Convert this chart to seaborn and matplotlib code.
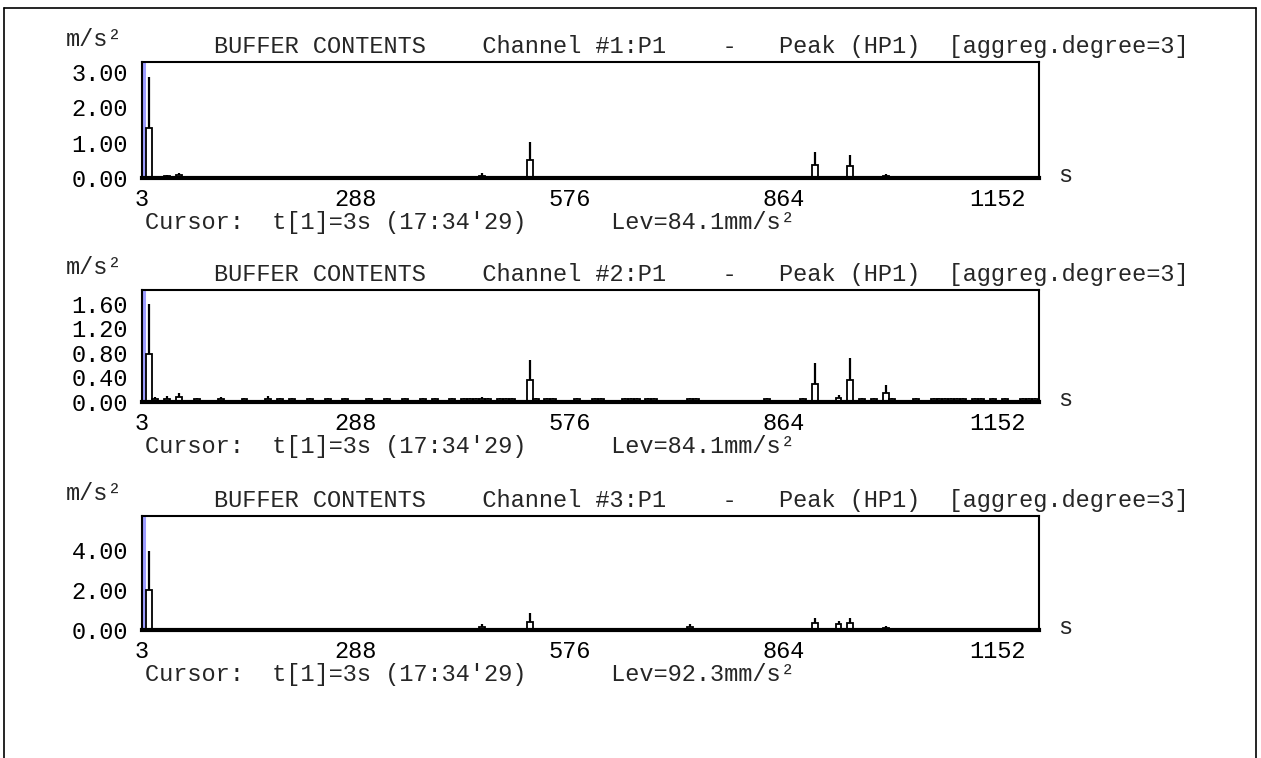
import numpy as np
import pandas as pd
import matplotlib as mpl
mpl.use('agg')
import matplotlib.pyplot as plt
import seaborn as sns
from matplotlib.lines import Line2D

# buffer contents, aggregated (8 s bins): bin time [s], mean level, peak level [m/s^2]
ch1_t    = [10, 18, 34, 50, 170, 290, 458, 522, 666, 746, 770, 882, 906, 938, 954, 1002]
ch1_avg  = [1.42, 0.04, 0.05, 0.08, 0.03, 0.02, 0.07, 0.52, 0.03, 0.03, 0.03, 0.04, 0.38, 0.04, 0.33, 0.05]
ch1_peak = [2.85, 0.06, 0.08, 0.13, 0.06, 0.04, 0.14, 1.02, 0.06, 0.05, 0.06, 0.07, 0.72, 0.07, 0.66, 0.10]

ch2_t    = [10, 18, 34, 50, 74, 106, 138, 170, 186, 202, 226, 250, 274, 306, 330, 354, 378, 394,
            418, 434, 442, 450, 458, 466, 482, 490, 498, 522, 530, 546, 554, 586, 610, 618,
            650, 658, 666, 682, 690, 738, 746, 842, 890, 906, 938, 954, 970, 986, 1002, 1010,
            1042, 1066, 1074, 1082, 1090, 1098, 1106, 1122, 1130, 1146, 1162, 1186, 1194, 1202]
ch2_avg  = [0.78, 0.05, 0.05, 0.08, 0.05, 0.05, 0.05, 0.05, 0.05, 0.05, 0.05, 0.05, 0.05, 0.05, 0.05, 0.05, 0.05, 0.05,
            0.05, 0.05, 0.05, 0.05, 0.05, 0.05, 0.05, 0.05, 0.05, 0.35, 0.05, 0.05, 0.05, 0.05, 0.05, 0.05,
            0.05, 0.05, 0.05, 0.05, 0.05, 0.05, 0.05, 0.05, 0.05, 0.30, 0.07, 0.35, 0.05, 0.05, 0.15, 0.05,
            0.05, 0.05, 0.05, 0.05, 0.05, 0.05, 0.05, 0.05, 0.05, 0.05, 0.05, 0.05, 0.05, 0.05]
ch2_peak = [1.59, 0.08, 0.09, 0.15, 0.06, 0.08, 0.06, 0.09, 0.06, 0.06, 0.06, 0.06, 0.06, 0.06, 0.06, 0.06, 0.06, 0.06,
            0.06, 0.06, 0.06, 0.06, 0.08, 0.06, 0.06, 0.06, 0.06, 0.69, 0.06, 0.06, 0.06, 0.06, 0.06, 0.06,
            0.06, 0.06, 0.06, 0.06, 0.06, 0.07, 0.06, 0.06, 0.06, 0.63, 0.11, 0.72, 0.06, 0.06, 0.27, 0.06,
            0.06, 0.06, 0.06, 0.06, 0.06, 0.06, 0.06, 0.06, 0.06, 0.06, 0.06, 0.06, 0.06, 0.06]

ch3_t    = [10, 34, 170, 458, 522, 738, 906, 938, 954, 1002]
ch3_avg  = [2.00, 0.05, 0.05, 0.15, 0.42, 0.15, 0.37, 0.30, 0.33, 0.10]
ch3_peak = [3.95, 0.12, 0.12, 0.30, 0.83, 0.30, 0.62, 0.45, 0.62, 0.20]

channels = ['#1', '#2', '#3']
y_top = [3.27, 1.82, 5.7]
y_ticks = [[0, 1, 2, 3], [0, 0.4, 0.8, 1.2, 1.6], [0, 2, 4]]
x_ticks = [0, 144, 288, 432, 576, 720, 864, 1008, 1152]
x_ticklabels = ['3', '', '288', '', '576', '', '864', '', '1152']
cursor_lev = ['84.1', '84.1', '92.3']

data = [(ch1_t, ch1_avg, ch1_peak), (ch2_t, ch2_avg, ch2_peak), (ch3_t, ch3_avg, ch3_peak)]

sns.set_style('white')
plt.rcParams['font.family'] = ['Liberation Mono', 'DejaVu Sans Mono']
fs = 17

W, H = 1261, 758
fig = plt.figure(figsize=(W / 100, H / 100), dpi=100)

# axes boxes in pixels: left, top, right, zero line
boxes = [(142, 62, 1039, 178), (142, 290, 1039, 402), (142, 516, 1039, 630)]

for i, (t, avg, peak) in enumerate(data):
    l, top, r, b = boxes[i]
    ax = fig.add_axes([l / W, 1 - b / H, (r - l) / W, (b - top) / H])
    df = pd.DataFrame({'t': t, 'avg': avg, 'peak': peak})
    ax.axvline(3, color='#9d9dff', lw=2.2, zorder=0.5)
    sns.histplot(data=df, x='t', weights='avg', binwidth=8, binrange=(6, 1206), element='bars',
                 fill=True, facecolor='white', edgecolor='black', linewidth=1.3, alpha=1, ax=ax)
    ax.vlines(df['t'], df['avg'], df['peak'], color='black', lw=1.6)
    ax.set_xlim(0, 1208)
    ax.set_ylim(0, y_top[i])
    ax.set_xlabel('')
    ax.set_ylabel('')
    ax.set_xticks(x_ticks)
    ax.set_xticklabels(x_ticklabels)
    ax.set_yticks(y_ticks[i])
    ax.set_yticklabels(['%.2f' % v for v in y_ticks[i]])
    ax.tick_params(axis='both', direction='out', length=5, width=1.5, color='black',
                   labelsize=fs, labelcolor='black')
    ax.tick_params(axis='x', pad=2)
    ax.tick_params(axis='y', pad=5)
    for side in ['top', 'right', 'left']:
        ax.spines[side].set_color('black')
        ax.spines[side].set_linewidth(1.5)
    ax.spines['bottom'].set_color('black')
    ax.spines['bottom'].set_linewidth(3)

    fig.text(66 / W, 1 - (top - 22) / H, 'm/s²', fontsize=fs, va='center', ha='left')
    fig.text(214 / W, 1 - (top - 16) / H,
             'BUFFER CONTENTS    Channel %s:P1    -   Peak (HP1)  [aggreg.degree=3]' % channels[i],
             fontsize=fs, va='center', ha='left')
    fig.text(1058 / W, 1 - (b - 3) / H, 's', fontsize=fs, va='center', ha='left')
    fig.text(145 / W, 1 - (b + 44) / H,
             "Cursor:  t[1]=3s (17:34'29)      Lev=%smm/s²" % cursor_lev[i],
             fontsize=fs, va='center', ha='left')

# outer frame (top and sides)
for xs, ys in [([4, 1256], [8, 8]), ([4, 4], [8, 758]), ([1256, 1256], [8, 758])]:
    fig.add_artist(Line2D([x / W for x in xs], [1 - y / H for y in ys],
                          transform=fig.transFigure, color='black', lw=1.2))

fig.savefig('out.png', dpi=100)
